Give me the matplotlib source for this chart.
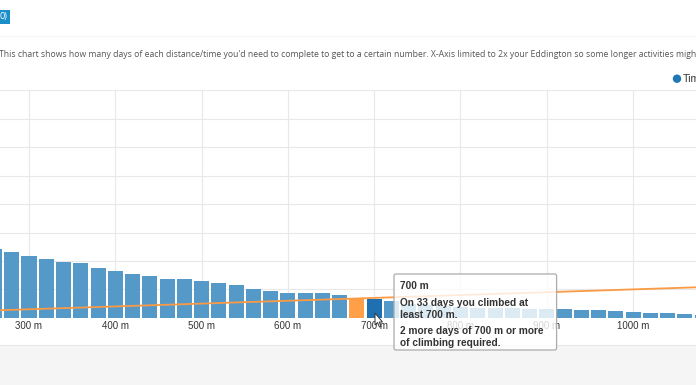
import matplotlib
matplotlib.use("Agg")
import matplotlib.pyplot as plt
from matplotlib.patches import Rectangle, FancyBboxPatch, Circle, Polygon

W, H = 696, 385

thresholds = [260, 280, 300, 320, 340, 360, 380, 400, 420, 440, 460, 480, 500, 520,
              540, 560, 580, 600, 620, 640, 660, 680, 700, 720, 740, 760, 780, 800,
              820, 840, 860, 880, 900, 920, 940, 960, 980, 1000, 1020, 1040, 1060, 1080]
days = [121, 115, 108, 103, 98, 96, 87, 83, 77, 74, 68, 68, 65, 62,
        58, 51, 47, 44, 43, 43, 41, 34, 33, 30, 25, 22, 20, 19,
        18, 17, 17, 16, 16, 15, 14, 13, 12, 11, 8, 8, 6, 5]
line_x = [260, 400, 600, 800, 1000, 1080]
line_days = [13, 20, 30, 40, 50, 54]
tick_values = [300, 400, 500, 600, 700, 800, 900, 1000]
tick_labels = ["300 m", "400 m", "500 m", "600 m", "700 m", "800 m", "900 m", "1000 m"]
y_grid = [0, 50, 100, 150, 200, 250, 300, 350, 400]
eddington_bar = 680
hover_bar = 700

description = ("This chart shows how many days of each distance/time you'd need to complete "
               "to get to a certain number. X-Axis limited to 2x your Eddington so some longer "
               "activities might not appear.")
tooltip_title = "700 m"
tooltip_lines = [("On 33 days you climbed at", 302.5), ("least 700 m.", 314.5),
                 ("2 more days of 700 m or more", 331.5), ("of climbing required.", 343.5)]

fig = plt.figure(figsize=(W / 100, H / 100), dpi=100, facecolor="white")

# Main chart
top, bottom = 90.5, 317.8
ax = fig.add_axes([0, 1 - bottom / H, 1, (bottom - top) / H])
ax.set_xlim(266.4, 1072.9)
ax.set_ylim(0, 400)
for s in ax.spines.values():
    s.set_visible(False)
ax.set_xticks(tick_values)
ax.set_xticklabels(tick_labels, fontsize=7.0, family="Liberation Sans", color="#333333")
ax.set_yticks(y_grid)
ax.tick_params(axis="both", length=0, labelleft=False, pad=2.3)
ax.grid(True, color="#e8e8e8", lw=0.8)
ax.set_axisbelow(True)

colors = []
for t in thresholds:
    if t == eddington_bar:
        colors.append("#ff9f48")
    elif t == hover_bar:
        colors.append("#1f70b0")
    else:
        colors.append("#5599c8")
ax.bar(thresholds, days, width=17.4, color=colors, zorder=2)
ax.plot(line_x, line_days, color="#fb9a45", lw=1.3, zorder=3)

# Page furniture, drawn in pixel coordinates
ov = fig.add_axes([0, 0, 1, 1], facecolor="none")
ov.set_xlim(0, W)
ov.set_ylim(H, 0)
ov.axis("off")

ov.add_patch(Rectangle((0, 345), W, 40, fc="#f5f5f5", ec="none"))
ov.plot([0, W], [344.6, 344.6], color="#e6e6e6", lw=0.8)
ov.plot([0, W], [36, 36], color="#f5f5f5", lw=0.8)
ov.add_patch(Rectangle((0, 10), 10, 14, fc="#1b8fca", ec="none"))
ov.text(0, 17, "0)", color="white", fontsize=6.5, family="Open Sans", va="center", ha="left")

ov.text(-1, 54.5, description, fontsize=6.25, family="Open Sans", color="#555555",
        va="center", ha="left", clip_on=True)

ov.add_patch(Circle((677, 78.7), 4.2, fc="#1f77b4", ec="none"))
ov.text(683, 78.7, "Time", fontsize=7.6, family="Liberation Sans", color="#333333",
        va="center", ha="left", clip_on=True)

# Tooltip
ov.add_patch(FancyBboxPatch((394, 274), 162.6, 76, boxstyle="round,pad=0,rounding_size=2",
                            fc=(1, 1, 1, 0.8), ec="#ababab", lw=0.9, zorder=5))
ov.text(399.5, 286, tooltip_title, fontsize=7.25, family="Liberation Sans", weight="bold",
        color="#333333", va="center", ha="left", zorder=6)
for txt, y in tooltip_lines:
    ov.text(399.5, y, txt, fontsize=7.25, family="Liberation Sans", weight="bold",
            color="#333333", va="center", ha="left", zorder=6)

# Mouse cursor
ov.add_patch(Polygon([(375, 313), (375, 325), (377.5, 322.5), (379.5, 327), (381, 326.3),
                      (379.3, 322), (382.5, 322)], closed=True, fc="white", ec="#333333",
                     lw=0.7, zorder=7))

fig.savefig("out.png", dpi=100, facecolor="white")
